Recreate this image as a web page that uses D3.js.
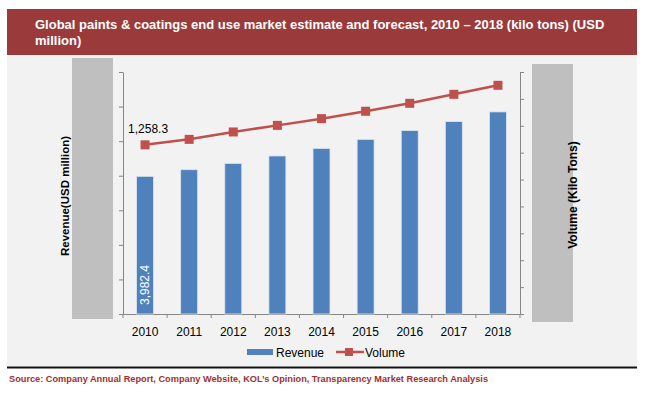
<!DOCTYPE html>
<html>
<head>
<meta charset="utf-8">
<script src="https://cdn.jsdelivr.net/npm/d3@7"></script>
<style>
  body { margin: 0; background: #fff; }
  svg text { font-family: "Liberation Sans", Arial, sans-serif; }
</style>
</head>
<body>
<div id="chart"></div>
<script>
// data
var years = ["2010", "2011", "2012", "2013", "2014", "2015", "2016", "2017", "2018"];
var revenue = [3982.4, 4174, 4357, 4571, 4791, 5052, 5304, 5565, 5846];
var volume = [1258.3, 1299, 1354, 1403, 1453, 1508, 1567, 1634, 1701];
var revTicks = [0, 1000, 2000, 3000, 4000, 5000, 6000, 7000];
var volTicks = [0, 200, 400, 600, 800, 1000, 1200, 1400, 1600, 1800];
var titleLines = ["Global paints & coatings end use market estimate and forecast, 2010 \u2013 2018 (kilo tons) (USD", "million)"];
var source = "Source: Company Annual Report, Company Website, KOL\u2019s Opinion, Transparency Market Research Analysis";

var W = 650, H = 398;
var plotL = 123, plotR = 520, plotT = 72, plotB = 314;

var svg = d3.select("#chart").append("svg")
    .attr("width", W)
    .attr("height", H);

// background panel
svg.append("rect").attr("x", 7).attr("y", 55).attr("width", 630).attr("height", 311).attr("fill", "#f2f2f2");
svg.append("line").attr("x1", 7).attr("x2", 637).attr("y1", 367.5).attr("y2", 367.5)
    .attr("stroke", "#111").attr("stroke-width", 2);

// title bar
svg.append("rect").attr("x", 7).attr("y", 9).attr("width", 630).attr("height", 46).attr("fill", "#9b3a3a");
svg.append("text")
    .attr("x", 35).attr("y", 29)
    .attr("fill", "#fff").style("font-size", "13px").style("font-weight", "bold")
    .selectAll("tspan").data(titleLines).enter().append("tspan")
    .attr("x", 35).attr("dy", function(d, i) { return i ? 16 : 0; })
    .text(function(d) { return d; });

// gray axis strips
svg.append("rect").attr("x", 72).attr("y", 58).attr("width", 41).attr("height", 261).attr("fill", "#bfbfbf");
svg.append("rect").attr("x", 532).attr("y", 64).attr("width", 41).attr("height", 258).attr("fill", "#bfbfbf");

var x = d3.scaleBand().domain(years).range([plotL, plotR]).paddingInner(0.615).paddingOuter(0.3075);
var yL = d3.scaleLinear().domain([0, 7000]).range([plotB, plotT]);
var yR = d3.scaleLinear().domain([0, 1800]).range([plotB, plotT]);

var axisColor = "#868686";

var gL = svg.append("g").attr("transform", "translate(" + plotL + ",0)")
    .call(d3.axisLeft(yL).tickValues(revTicks).tickFormat("").tickSize(4).tickSizeOuter(0));
var gR = svg.append("g").attr("transform", "translate(" + plotR + ",0)")
    .call(d3.axisRight(yR).tickValues(volTicks).tickFormat("").tickSize(4).tickSizeOuter(0));
var gX = svg.append("g").attr("transform", "translate(0," + plotB + ")")
    .call(d3.axisBottom(x).tickSize(0).tickSizeOuter(0).tickPadding(13));
gX.selectAll("text").style("font-size", "12px").attr("fill", "#000")
    .style("font-family", "'Liberation Sans', Arial, sans-serif");

// tick marks between categories
var bounds = d3.range(years.length + 1).map(function(i) { return plotL + i * x.step(); });
gX.selectAll(".bt").data(bounds).enter().append("line")
    .attr("x1", function(d) { return d; }).attr("x2", function(d) { return d; })
    .attr("y1", 0).attr("y2", 4).attr("stroke", axisColor);

[gL, gR, gX].forEach(function(g) {
    g.selectAll("path, line").attr("stroke", axisColor);
});

// bars
svg.append("g").selectAll("rect").data(revenue).enter().append("rect")
    .attr("x", function(d, i) { return x(years[i]); })
    .attr("y", function(d) { return yL(d); })
    .attr("width", x.bandwidth())
    .attr("height", function(d) { return yL(0) - yL(d); })
    .attr("fill", "#4f81bd")
    .attr("stroke", "#dce6f2").attr("stroke-width", 0.8);

// first bar label
var cx0 = x(years[0]) + x.bandwidth() / 2;
svg.append("text")
    .attr("transform", "translate(" + (cx0 + 4) + "," + 285 + ") rotate(-90)")
    .attr("text-anchor", "middle")
    .attr("fill", "#fff").style("font-size", "12px")
    .text(d3.format(",.1f")(revenue[0]));

// volume line
var line = d3.line()
    .x(function(d, i) { return x(years[i]) + x.bandwidth() / 2; })
    .y(function(d) { return yR(d); });
svg.append("path").datum(volume).attr("d", line)
    .attr("fill", "none").attr("stroke", "#c0504d").attr("stroke-width", 2.5);
svg.append("g").selectAll("rect").data(volume).enter().append("rect")
    .attr("x", function(d, i) { return x(years[i]) + x.bandwidth() / 2 - 4.5; })
    .attr("y", function(d) { return yR(d) - 4.5; })
    .attr("width", 9).attr("height", 9)
    .attr("fill", "#c0504d");

svg.append("text")
    .attr("x", cx0 + 3).attr("y", yR(volume[0]) - 12)
    .attr("text-anchor", "middle")
    .attr("fill", "#000").style("font-size", "12px")
    .text(d3.format(",.1f")(volume[0]));

// axis titles
svg.append("text")
    .attr("transform", "translate(69,196) rotate(-90)")
    .attr("text-anchor", "middle")
    .style("font-size", "11.5px").style("font-weight", "bold")
    .text("Revenue(USD million)");
svg.append("text")
    .attr("transform", "translate(577,195) rotate(-90)")
    .attr("text-anchor", "middle")
    .style("font-size", "12px").style("font-weight", "bold")
    .text("Volume (Kilo Tons)");

// legend
var lg = svg.append("g");
lg.append("rect").attr("x", 247).attr("y", 349).attr("width", 26).attr("height", 6).attr("fill", "#4f81bd");
lg.append("text").attr("x", 276).attr("y", 357).style("font-size", "12px").text("Revenue");
lg.append("line").attr("x1", 336).attr("x2", 364).attr("y1", 352).attr("y2", 352)
    .attr("stroke", "#c0504d").attr("stroke-width", 2.5);
lg.append("rect").attr("x", 345).attr("y", 348).attr("width", 8).attr("height", 8).attr("fill", "#c0504d");
lg.append("text").attr("x", 365).attr("y", 357).style("font-size", "12px").text("Volume");

// source
svg.append("text")
    .attr("x", 9).attr("y", 382)
    .attr("fill", "#a03030").style("font-size", "9.5px").style("font-weight", "bold")
    .attr("textLength", 479).attr("lengthAdjust", "spacingAndGlyphs")
    .text(source);
</script>
</body>
</html>
